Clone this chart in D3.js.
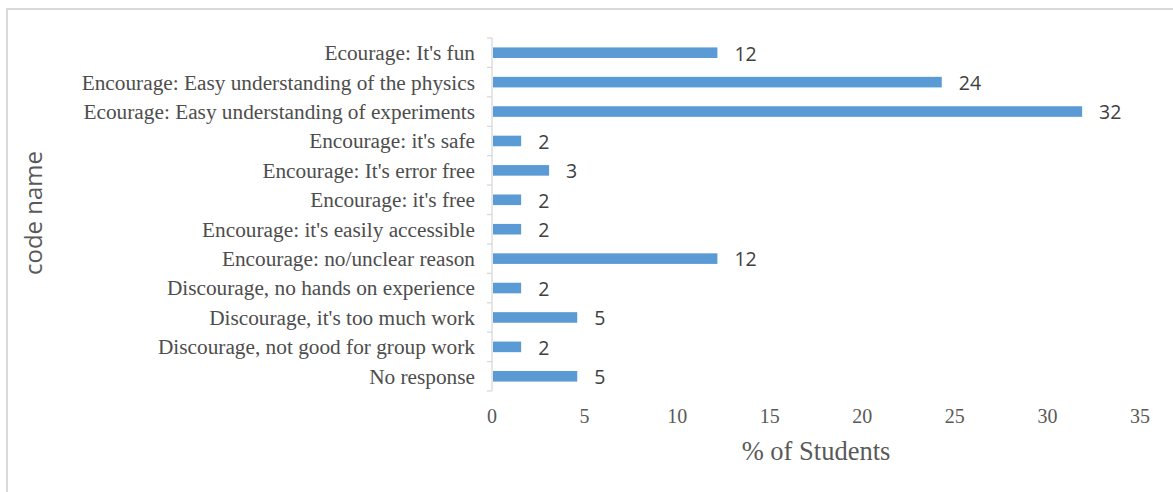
<!DOCTYPE html>
<html>
<head>
<meta charset="utf-8">
<script src="https://cdn.jsdelivr.net/npm/d3@7"></script>
<style>
  body { margin: 0; background: #fff; }
</style>
</head>
<body>
<div id="chart"></div>
<script>
// categories, top to bottom
const categories = [
  "Ecourage: It's fun",
  "Encourage: Easy understanding of the physics",
  "Ecourage: Easy understanding of experiments",
  "Encourage: it's safe",
  "Encourage: It's error free",
  "Encourage: it's free",
  "Encourage: it's easily accessible",
  "Encourage: no/unclear reason",
  "Discourage, no hands on experience",
  "Discourage, it's too much work",
  "Discourage, not good for group work",
  "No response"
];
// % of students (bar lengths)
const values = [12.12, 24.24, 31.82, 1.52, 3.03, 1.52, 1.52, 12.12, 1.52, 4.55, 1.52, 4.55];
const xTicks = [0, 5, 10, 15, 20, 25, 30, 35];

const width = 1173, height = 492;
const margin = {top: 38, left: 492, right: 33, bottom: 101};

const svg = d3.select("#chart").append("svg")
    .attr("width", width)
    .attr("height", height);

// chart area border
svg.append("rect")
    .attr("x", 7).attr("y", 9)
    .attr("width", width + 10).attr("height", height + 10)
    .attr("fill", "none")
    .attr("stroke", "#d9d9d9")
    .attr("stroke-width", 2);

const x = d3.scaleLinear()
    .domain([0, 35])
    .range([margin.left, width - margin.right]);

const y = d3.scaleBand()
    .domain(categories)
    .range([margin.top, height - margin.bottom])
    .paddingInner(0.64)
    .paddingOuter(0.32);

// y axis: line + boundary ticks
const yAxis = svg.append("g");
yAxis.append("line")
    .attr("x1", x(0)).attr("x2", x(0))
    .attr("y1", margin.top).attr("y2", height - margin.bottom)
    .attr("stroke", "#d9d9d9").attr("stroke-width", 1.3);
const bounds = d3.range(categories.length + 1).map(i => margin.top + i * y.step());
yAxis.selectAll(".tk").data(bounds).join("line")
    .attr("x1", x(0) - 5).attr("x2", x(0))
    .attr("y1", d => d).attr("y2", d => d)
    .attr("stroke", "#d9d9d9").attr("stroke-width", 1.3);

yAxis.selectAll(".lbl").data(categories).join("text")
    .attr("x", x(0) - 17)
    .attr("y", d => y(d) + y.bandwidth() / 2)
    .attr("dy", "0.35em")
    .attr("text-anchor", "end")
    .attr("font-family", "'Liberation Serif', 'Times New Roman', serif")
    .attr("font-size", 21.3)
    .attr("fill", "#4d4d4d")
    .text(d => d);

// bars
svg.append("g").selectAll("rect").data(values).join("rect")
    .attr("x", x(0) + 1)
    .attr("y", (d, i) => y(categories[i]))
    .attr("width", d => x(d) - x(0))
    .attr("height", y.bandwidth())
    .attr("fill", "#5b9bd5");

// data labels
svg.append("g").selectAll("text").data(values).join("text")
    .attr("x", d => x(d) + 18)
    .attr("y", (d, i) => y(categories[i]) + y.bandwidth() / 2)
    .attr("dy", "0.4em")
    .attr("font-family", "'Open Sans', 'Noto Sans', sans-serif")
    .attr("font-size", 19.5)
    .attr("fill", "#404040")
    .text(d => d3.format(".0f")(d));

// x tick labels
svg.append("g").selectAll("text").data(xTicks).join("text")
    .attr("x", d => x(d))
    .attr("y", 423)
    .attr("text-anchor", "middle")
    .attr("font-family", "'Liberation Serif', 'Times New Roman', serif")
    .attr("font-size", 20)
    .attr("fill", "#595959")
    .text(d => d);

// axis titles
svg.append("text")
    .attr("x", 816).attr("y", 460)
    .attr("text-anchor", "middle")
    .attr("font-family", "'Liberation Serif', 'Times New Roman', serif")
    .attr("font-size", 26.5)
    .attr("fill", "#595959")
    .text("% of Students");

svg.append("text")
    .attr("transform", "translate(42,213) rotate(-90)")
    .attr("text-anchor", "middle")
    .attr("font-family", "'Open Sans', 'Noto Sans', sans-serif")
    .attr("font-size", 24)
    .attr("fill", "#595959")
    .text("code name");
</script>
</body>
</html>
